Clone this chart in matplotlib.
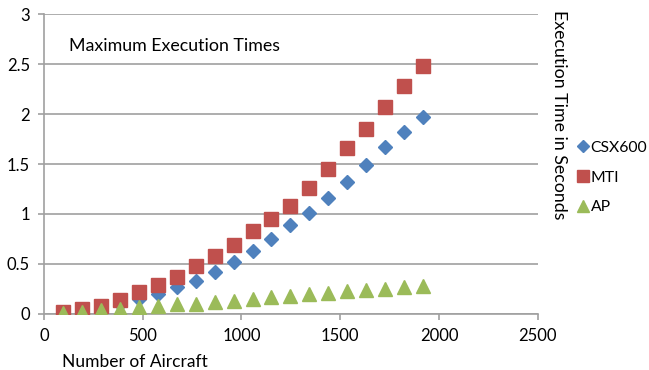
import numpy as np
import matplotlib
matplotlib.use("Agg")
import matplotlib.pyplot as plt

plt.rcParams['font.family'] = ['Lato', 'DejaVu Sans']

# number of aircraft (steps of 96)
aircraft = [96, 192, 288, 384, 480, 576, 672, 768, 864, 960,
            1056, 1152, 1248, 1344, 1440, 1536, 1632, 1728, 1824, 1920]

csx600 = [0.01, 0.03, 0.06, 0.10, 0.15, 0.20, 0.27, 0.33, 0.42, 0.515,
          0.625, 0.745, 0.885, 1.01, 1.163, 1.32, 1.495, 1.673, 1.824, 1.971]
mti = [0.02, 0.047, 0.074, 0.137, 0.214, 0.287, 0.37, 0.478, 0.58, 0.688,
       0.826, 0.946, 1.076, 1.26, 1.447, 1.657, 1.85, 2.068, 2.278, 2.485]
ap = [0.01, 0.02, 0.035, 0.05, 0.065, 0.08, 0.095, 0.10, 0.115, 0.132,
      0.147, 0.165, 0.18, 0.197, 0.207, 0.224, 0.237, 0.25, 0.264, 0.278]

blue = '#4F81BD'
red = '#C0504D'
green = '#9BBB59'
grey = '#A0A0A0'

fig = plt.figure(figsize=(6.49, 3.70), dpi=100)
ax = fig.add_axes([0.0678, 0.152, 0.7607, 0.809])

ax.plot(aircraft, csx600, linestyle='none', marker='D', markersize=7.5,
        color=blue, label='CSX600', zorder=3)
ax.plot(aircraft, mti, linestyle='none', marker='s', markersize=9.5,
        color=red, label='MTI', zorder=3)
ax.plot(aircraft, ap, linestyle='none', marker='^', markersize=10,
        color=green, label='AP', zorder=3)

ax.set_xlim(0, 2500)
ax.set_ylim(0, 3)
ax.set_xticks([0, 500, 1000, 1500, 2000, 2500])
ax.set_yticks([0, 0.5, 1, 1.5, 2, 2.5, 3])
ax.set_yticklabels(['0', '0.5', '1', '1.5', '2', '2.5', '3'])

ax.grid(axis='y', color=grey, linewidth=1.2)
ax.set_axisbelow(True)
for s in ['top', 'right']:
    ax.spines[s].set_visible(False)
for s in ['left', 'bottom']:
    ax.spines[s].set_color(grey)
    ax.spines[s].set_linewidth(1.2)
ax.tick_params(axis='both', colors=grey, length=4, width=1.2, labelsize=12,
               labelcolor='black', pad=6)

ax.set_xlabel('Number of Aircraft', fontsize=12.5)
ax.xaxis.set_label_coords(0.185, -0.135)

ax.text(0.05, 0.895, 'Maximum Execution Times', transform=ax.transAxes,
        fontsize=12.8, va='center', ha='left')

fig.text(0.862, 0.69, 'Execution Time in Seconds', rotation=-90,
         fontsize=12.8, ha='center', va='center')

# legend (marker sizes shrunk a touch in legend)
leg = fig.legend(loc='center left', bbox_to_anchor=(0.887, 0.52), frameon=False,
                 fontsize=11.3, handletextpad=0.05, handlelength=0.9,
                 labelspacing=1.0, borderaxespad=0, borderpad=0, markerscale=0.85)

fig.savefig('out.png', dpi=100)
